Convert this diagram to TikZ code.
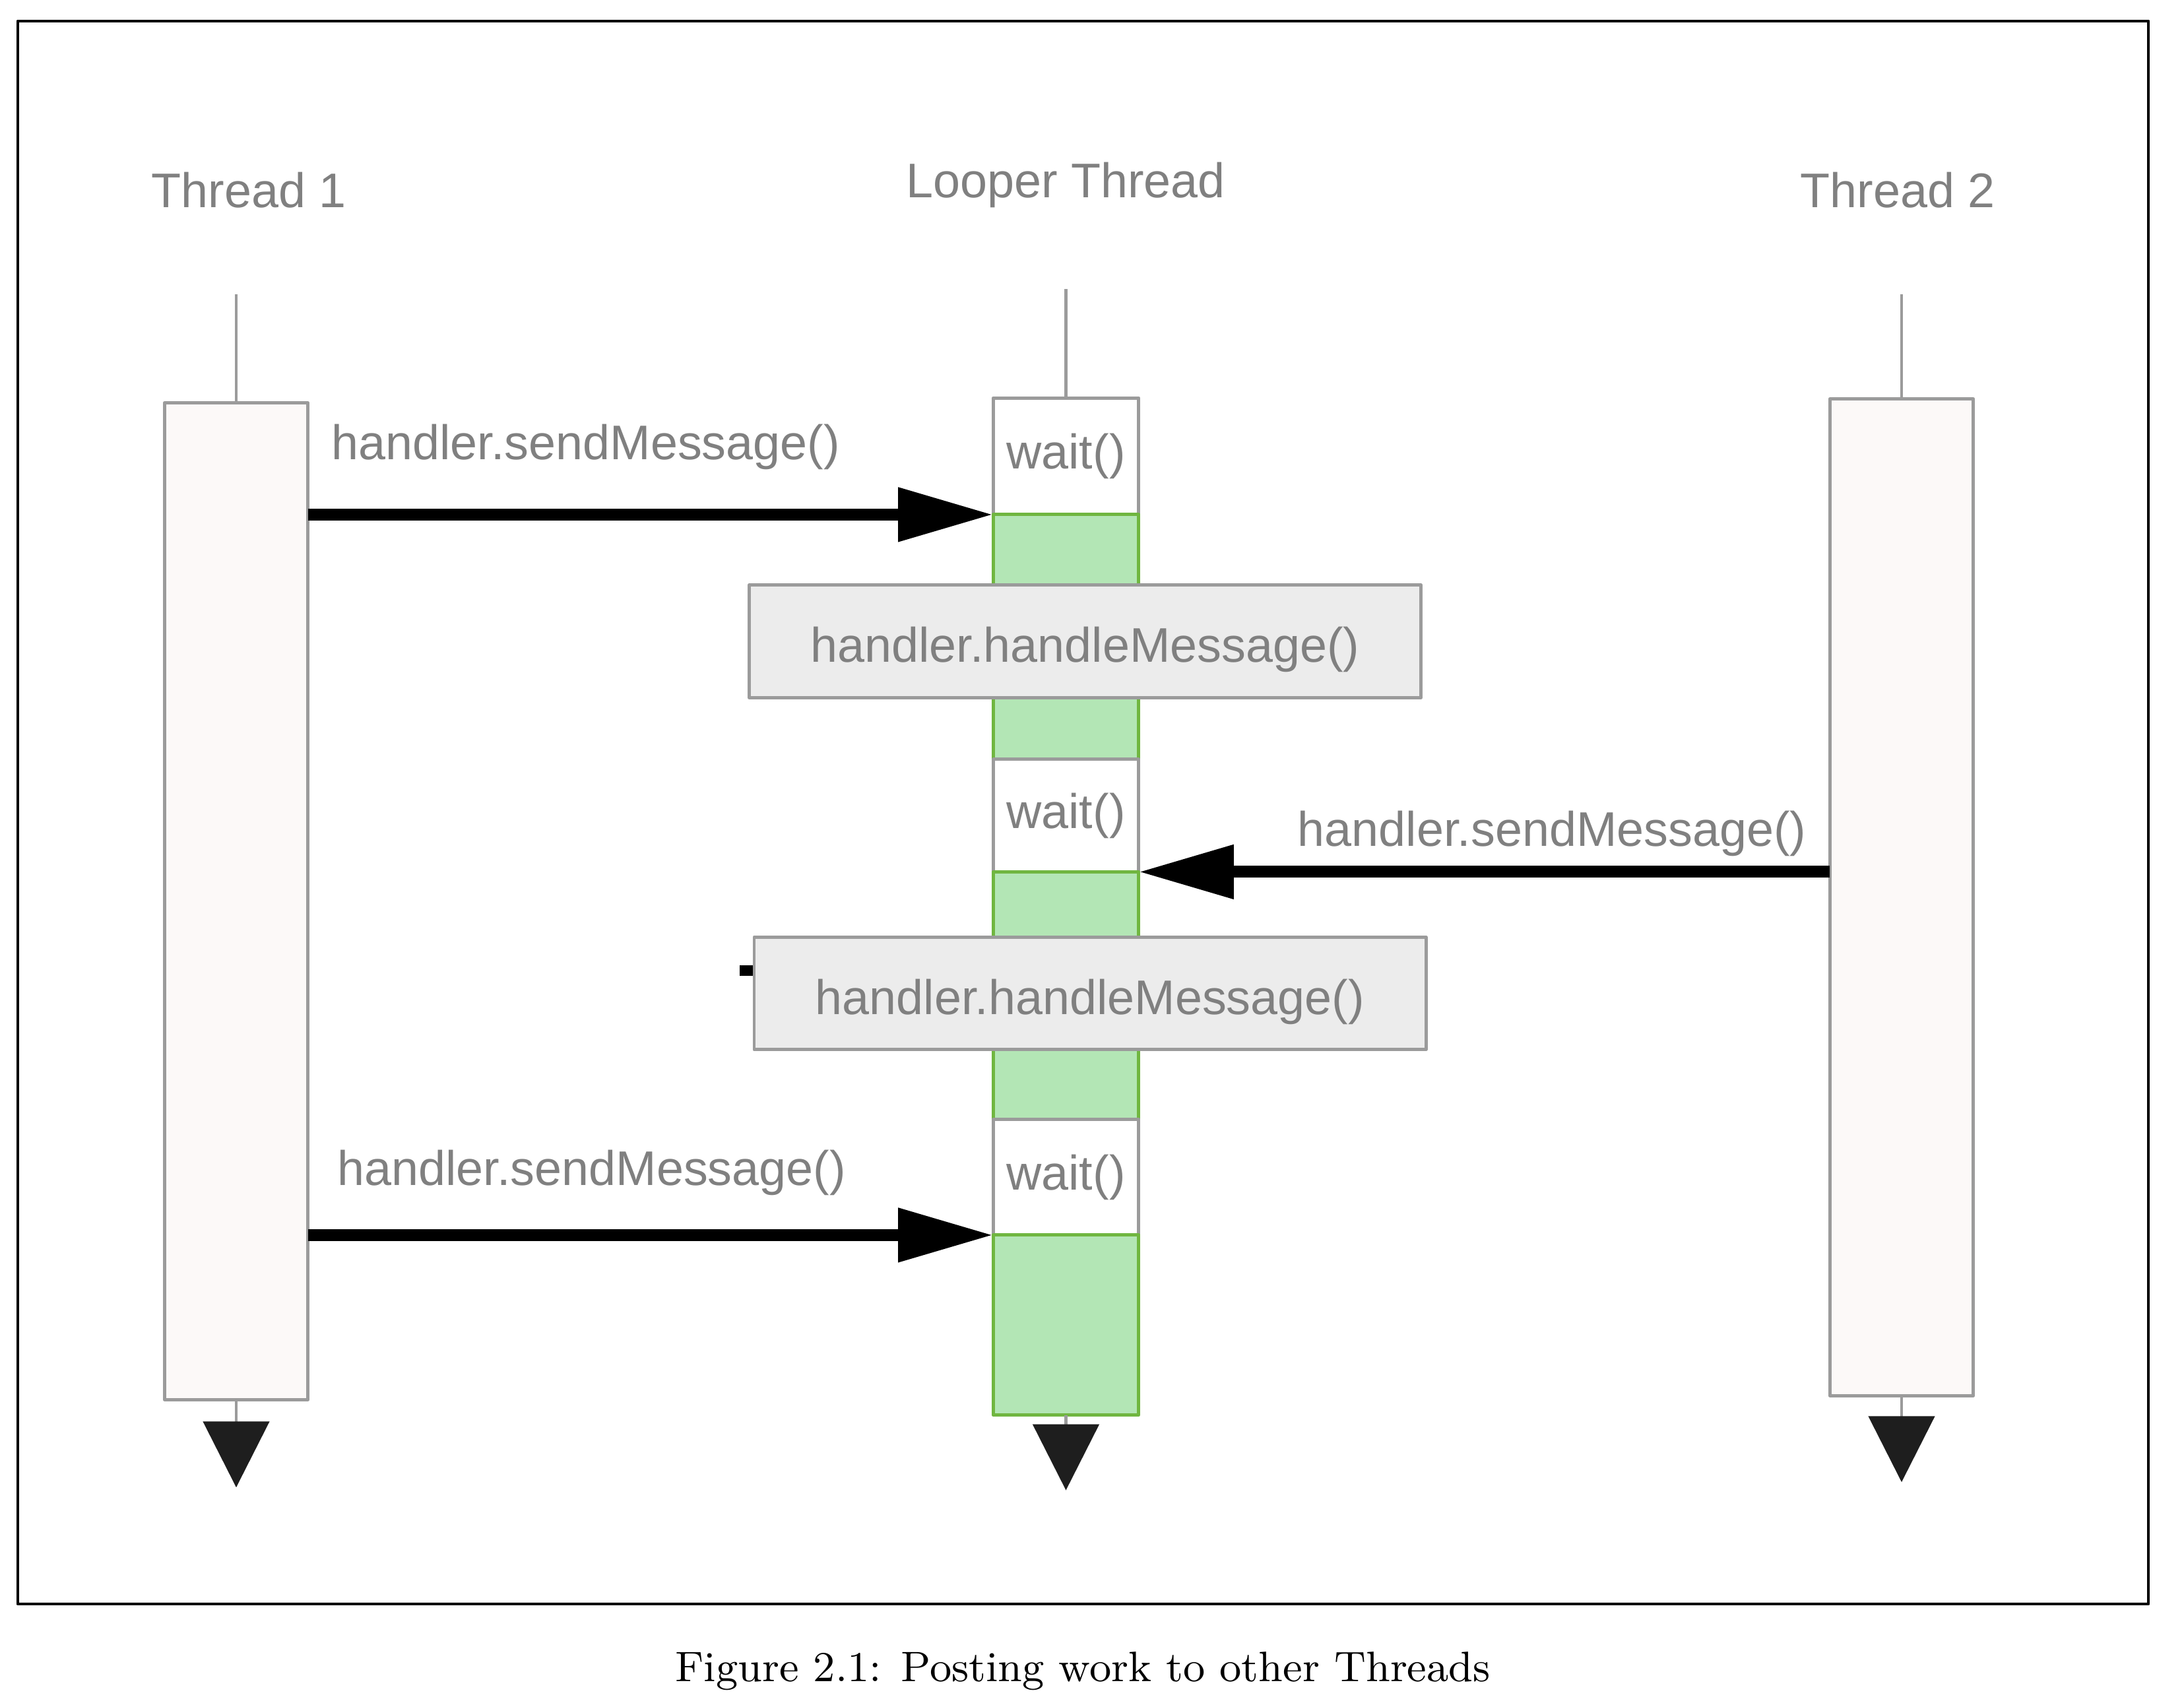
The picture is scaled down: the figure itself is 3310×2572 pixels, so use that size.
\documentclass[tikz,border=0pt]{standalone}
\usepackage{fontspec}
\newfontfamily\diagfont{Liberation Sans}
\usetikzlibrary{arrows.meta,positioning}
\definecolor{boxgray}{RGB}{155,155,155}
\definecolor{threadfill}{RGB}{252,249,248}
\definecolor{busyfill}{RGB}{179,230,181}
\definecolor{busyline}{RGB}{112,182,64}
\definecolor{callfill}{RGB}{236,236,236}
\definecolor{txtgray}{RGB}{128,128,128}
\definecolor{tipblack}{RGB}{30,30,30}
\begin{document}
\begin{tikzpicture}[x=0.005cm,y=-0.005cm,line join=round,
	threadbox/.style={draw=boxgray,fill=threadfill,line width=0.7pt,inner sep=0pt,outer sep=0pt,minimum width=1.09cm,minimum height=7.56cm},
	waitbox/.style={draw=boxgray,fill=white,line width=0.7pt,inner sep=0pt,outer sep=0pt,minimum width=1.105cm,font=\diagfont\fontsize{10.5}{12}\selectfont,text=txtgray},
	busybox/.style={draw=busyline,fill=busyfill,line width=0.7pt,inner sep=0pt,outer sep=0pt,minimum width=1.105cm},
	callbox/.style={draw=boxgray,fill=callfill,line width=0.7pt,inner sep=0pt,outer sep=0pt,minimum width=5.095cm,minimum height=0.855cm,text height=9pt,text depth=0pt,font=\diagfont\fontsize{10.5}{12}\selectfont,text=txtgray},
	lbl/.style={inner sep=0pt,font=\diagfont\fontsize{10.5}{12}\selectfont,text=txtgray},
	lifeline/.style={draw=boxgray,line width=0.7pt},
	endtip/.style={-{Triangle[length=0.5cm,width=0.5cm,color=tipblack]}},
	msg/.style={line width=2.55pt,-{Triangle[length=0.72cm,width=0.39cm]}}]
	\useasboundingbox (0,0) rectangle (3310,2572);
	\draw[line width=0.7pt] (27,32) rectangle (3256,2431);

	% headers
	\node[lbl,anchor=base] (h1) at (377,315) {Thread 1};
	\node[lbl,anchor=base] (h0) at (1615,300) {Looper Thread};
	\node[lbl,anchor=base] (h2) at (2876,315) {Thread 2};

	% threads
	\node[threadbox] (t1) at (358,1366) {};
	\node[threadbox] (t2) at (2882,1360) {};
	\draw[lifeline] (t1.north) -- ++(0,-165);
	\draw[lifeline] (t2.north) -- ++(0,-159);
	\draw[lifeline,endtip] (t1.south) -- ++(0,133);
	\draw[lifeline,endtip] (t2.south) -- ++(0,131);

	% looper thread
	\node[waitbox,minimum height=0.885cm] (w1) at (1615.5,691.5) {wait()};
	\node[busybox,minimum height=1.855cm,below=0pt of w1] (g1) {};
	\node[waitbox,minimum height=0.855cm,below=0pt of g1] (w2) {wait()};
	\node[busybox,minimum height=1.875cm,below=0pt of w2] (g2) {};
	\node[waitbox,minimum height=0.88cm,below=0pt of g2] (w3) {wait()};
	\node[busybox,minimum height=1.365cm,below=0pt of w3] (g3) {};
	\draw[lifeline] (w1.north) -- ++(0,-165);
	\draw[lifeline,endtip] (g3.south) -- ++(0,114);

	% messages
	\draw[msg] (t1.east |- g1.north west) -- (g1.north west);
	\draw[msg] (t2.west |- g2.north east) -- (g2.north east);
	\draw[msg] (t1.east |- g3.north west) -- (g3.north west);
	\node[lbl,anchor=base west] (m1) at (501,697) {handler.sendMessage()};
	\node[lbl,anchor=base east] (m2) at (2739,1283) {handler.sendMessage()};
	\node[lbl,anchor=base west] (m3) at (510,1797) {handler.sendMessage()};

	\draw[line width=2.2pt] (1121,1471) -- (2150,1471);
	\node[callbox] (c1) at (1644.5,972) {handler.handleMessage()};
	\node[callbox] (c2) at (1652,1505.5) {handler.handleMessage()};

	% caption
	\node[inner sep=0pt,anchor=base,font=\fontsize{9.2}{11}\selectfont] (cap) at (1641,2548) {Figure 2.1: Posting work to other Threads};
\end{tikzpicture}
\end{document}
